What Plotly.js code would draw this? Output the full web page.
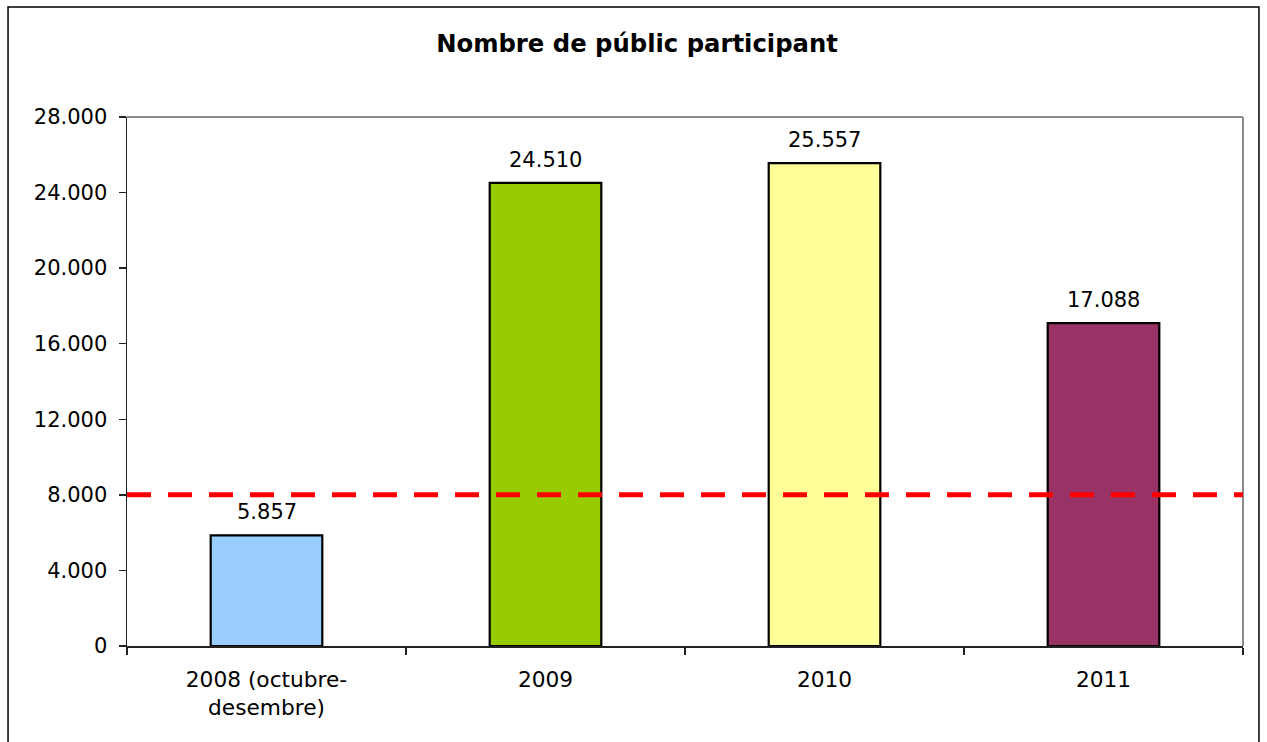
<!DOCTYPE html>
<html>
<head>
<meta charset="utf-8">
<script src="https://cdn.plot.ly/plotly-3.0.1.min.js"></script>
<style>
html,body{margin:0;padding:0;background:#fff;}
#chart{width:1267px;height:742px;}
</style>
</head>
<body>
<div id="chart"></div>
<script>
// Data
const categories = ["2008 (octubre-<br>desembre)", "2009", "2010", "2011"];
const values = [5857, 24510, 25557, 17088];
const barColors = ["#99CCFF", "#99CC00", "#FFFF99", "#993366"];
const referenceLevel = [8000];
const yTickValues = [0, 4000, 8000, 12000, 16000, 20000, 24000, 28000];
const chartTitle = "Nombre de públic participant";

const FONT = "DejaVu Sans, Verdana, sans-serif";

function fmt(v) {
  return String(v).replace(/\B(?=(\d{3})+(?!\d))/g, ".");
}

const trace = {
  type: "bar",
  x: categories,
  y: values,
  marker: {color: barColors, line: {color: "#000000", width: 2.2}},
  hoverinfo: "none",
  showlegend: false
};

const annotations = categories.map((c, i) => ({
  x: i, y: values[i], xref: "x", yref: "y",
  text: fmt(values[i]), showarrow: false,
  yanchor: "middle", yshift: 23,
  font: {family: FONT, size: 21, color: "#000"}
}));

const shapes = [
  // grey top & right frame
  {type: "line", xref: "paper", yref: "paper", x0: 0, x1: 1, y0: 1, y1: 1, line: {color: "#8c8c8c", width: 2}, layer: "below"},
  {type: "line", xref: "paper", yref: "paper", x0: 1, x1: 1, y0: 0, y1: 1, line: {color: "#8c8c8c", width: 2}, layer: "below"},
  // outer chart border
  {type: "rect", xref: "paper", yref: "paper", x0: -0.1066, x1: 1.0143, y0: -0.19, y1: 1.2079, line: {color: "#000", width: 1.5}, fillcolor: "rgba(0,0,0,0)"},
  // reference dashed line
  {type: "line", xref: "paper", yref: "y", x0: 0, x1: 1, y0: referenceLevel[0], y1: referenceLevel[0],
   line: {color: "#FF0000", width: 5, dash: "24px,17px"}, layer: "above"}
];

const layout = {
  width: 1267, height: 742,
  margin: {l: 127, r: 24, t: 117, b: 96, pad: 0},
  paper_bgcolor: "#fff", plot_bgcolor: "#fff",
  separators: ",.",
  font: {family: FONT, size: 21, color: "#000"},
  title: {text: "<b>" + chartTitle + "</b>", x: 637/1267, xref: "container", xanchor: "center", y: 1 - 43/742, yref: "container", yanchor: "middle",
          font: {family: FONT, size: 24.3, color: "#000"}},
  bargap: 0.6,
  xaxis: {
    type: "category", showline: true, linecolor: "#222", linewidth: 1.5,
    ticks: "outside", tickson: "boundaries", ticklen: 7, tickcolor: "#222", tickwidth: 1.5,
    ticklabelstandoff: 13,
    showgrid: false, zeroline: false, tickfont: {family: FONT, size: 21.7, color: "#000"},
    tickangle: 0, fixedrange: true
  },
  yaxis: {
    range: [0, 28000], tickvals: yTickValues, tickformat: ",d",
    showline: true, linecolor: "#222", linewidth: 1.5,
    ticks: "outside", ticklen: 7, tickcolor: "#222", tickwidth: 1.5, ticklabelstandoff: 7,
    showgrid: false, zeroline: false, tickfont: {family: FONT, size: 21, color: "#000"},
    fixedrange: true
  },
  shapes: shapes,
  annotations: annotations
};

Plotly.newPlot("chart", [trace], layout, {displayModeBar: false, staticPlot: true});
</script>
</body>
</html>
